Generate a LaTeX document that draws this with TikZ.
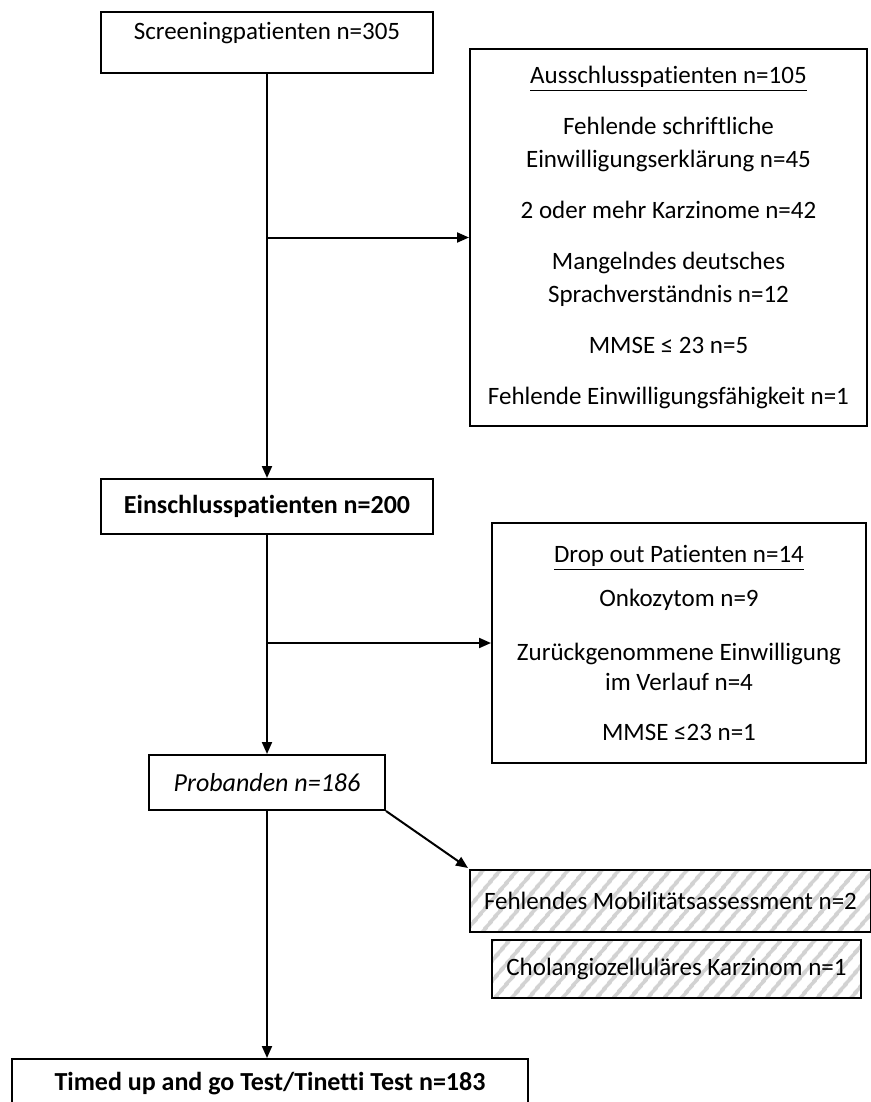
\documentclass[tikz,border=0pt]{standalone}
\usepackage{fontspec}
\setmainfont{Carlito}[Ligatures=NoCommon]
\usepackage{tikz}
\usetikzlibrary{arrows.meta, patterns.meta}

\begin{document}
\begin{tikzpicture}[
  x=0.5pt, y=-0.5pt,
  stage/.style={draw, line width=1pt, anchor=north west, align=center, inner sep=0pt,
    font=\fontsize{12.5}{16.5}\selectfont},
  excl/.style={stage},
  hatch/.style={stage, pattern={Lines[angle=50, distance=6.5pt, line width=2pt]},
    pattern color=gray!35},
  ar/.style={-{Triangle[length=6pt, width=5pt]}, line width=1pt}
]
\useasboundingbox (0,0) rectangle (871,1102);
\node[stage, minimum width=166pt, text height=14pt, text depth=16.5pt] (scr) at (100,11) {Screeningpatienten n=305};
\node[excl, minimum width=198.5pt, minimum height=188.5pt] (aus) at (469,48)
  {\underline{Ausschlusspatienten n=105}\\[9pt]
   Fehlende schriftliche\\ Einwilligungserklärung n=45\\[9pt]
   2 oder mehr Karzinome n=42\\[9pt]
   Mangelndes deutsches\\ Sprachverständnis n=12\\[9pt]
   MMSE ≤ 23 n=5\\[9pt]
   Fehlende Einwilligungsfähigkeit n=1};
\node[stage, minimum width=166pt, minimum height=27.5pt, font=\fontsize{13}{16.5}\selectfont\bfseries] (ein) at (100,478) {Einschlusspatienten n=200};
\node[excl, minimum width=187pt, minimum height=120pt, font=\fontsize{12.5}{15}\selectfont] (drop) at (491,522)
  {\underline{Drop out Patienten n=14}\\[7pt]
   Onkozytom n=9\\[12pt]
   Zurückgenommene Einwilligung\\ im Verlauf n=4\\[10pt]
   MMSE ≤23 n=1};
\node[stage, minimum width=118pt, minimum height=27.5pt, font=\fontsize{13}{16.5}\selectfont\itshape] (prob) at (148,754) {Probanden n=186};
\node[hatch, minimum width=200.5pt, minimum height=31pt] (mob) at (468,868) {Fehlendes Mobilitätsassessment n=2};
\node[hatch, minimum width=184.5pt, minimum height=29pt] (chol) at (491,939) {Cholangiozelluläres Karzinom n=1};
\node[stage, minimum width=258pt, text height=15.5pt, text depth=15pt, font=\fontsize{13}{16.5}\selectfont\bfseries] (tug) at (11,1058) {Timed up and go Test/Tinetti Test n=183};

\draw[ar] (scr.south) -- (ein.north);
\draw[ar] (scr.south |- aus.west) -- (aus.west);
\draw[ar] (ein.south) -- (prob.north);
\draw[ar] (ein.south |- drop.west) -- (drop.west);
\draw[ar] (prob.south) -- (prob.south |- tug.north);
\draw[ar] (prob.south east) -- (mob.north west);
\end{tikzpicture}
\end{document}
